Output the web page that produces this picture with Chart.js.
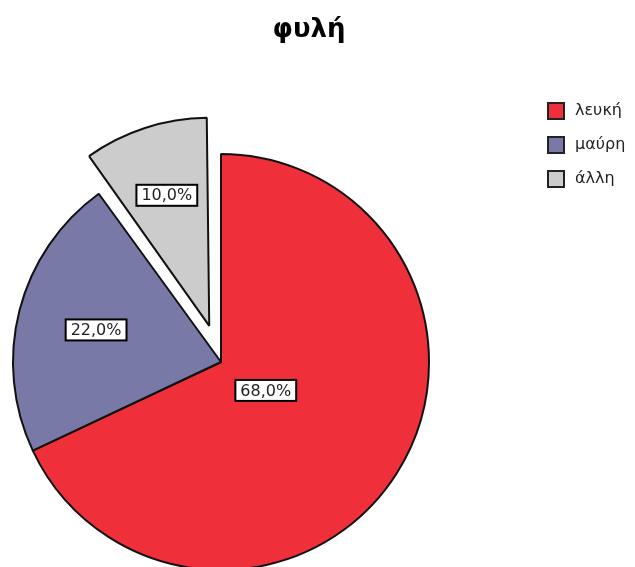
<!DOCTYPE html>
<html>
<head>
<meta charset="utf-8">
<script src="https://cdn.jsdelivr.net/npm/chart.js@4/dist/chart.umd.min.js"></script>
<style>
  html, body { margin: 0; padding: 0; background: #fff; overflow: hidden; }
  #chart_canvas { display: block; }
</style>
</head>
<body>
<canvas id="chart_canvas" width="635" height="567"></canvas>
<script>
// the numbers
const chart_title = "φυλή";
const categories = ["λευκή", "μαύρη", "άλλη"];
const percents = [68.0, 22.0, 10.0];
const slice_colors = ["#ef2f3a", "#7979a8", "#cccccc"];
const exploded = [false, false, true];

const pie_radius = 208;
const explode_px = 38;
// how far out along the middle of each slice the % box sits (fraction of radius)
const label_at = [0.255, 0.62, 0.66];
const font_fam = "'DejaVu Sans', Verdana, sans-serif";

function pct_txt(v) {
  return v.toFixed(1).replace(".", ",") + "%";
}

// arc draws offset/4 as the shift and grows the radius a bit, undo that growth
const fix_radius = {
  id: "fix_radius",
  afterDatasetsUpdate(chart) {
    const meta = chart.getDatasetMeta(0);
    meta.data.forEach(function(arc, i) {
      const circ = arc.endAngle - arc.startAngle;
      const off = exploded[i] ? explode_px : 0;
      const grow = off * (1 - Math.sin(Math.min(Math.PI, circ)));
      arc.outerRadius = pie_radius - grow;
    });
  }
};

// title, legend and the % boxes
const extras = {
  id: "extras",
  afterDraw(chart) {
    const ctx = chart.ctx;
    ctx.save();

    // title
    ctx.fillStyle = "#000";
    ctx.font = "bold 26px " + font_fam;
    ctx.textAlign = "center";
    ctx.textBaseline = "alphabetic";
    ctx.fillText(chart_title, 309, 37);

    // legend
    ctx.font = "16px " + font_fam;
    ctx.textAlign = "left";
    ctx.textBaseline = "middle";
    for (let i = 0; i < categories.length; i++) {
      let y = 103 + i * 34;
      ctx.fillStyle = slice_colors[i];
      ctx.fillRect(548, y, 16, 16);
      ctx.strokeStyle = "#222";
      ctx.lineWidth = 2;
      ctx.strokeRect(548, y, 16, 16);
      ctx.fillStyle = "#222";
      ctx.fillText(categories[i], 575, y + 8);
    }

    // value boxes
    const meta = chart.getDatasetMeta(0);
    meta.data.forEach(function(arc, i) {
      const mid = (arc.startAngle + arc.endAngle) / 2;
      const shift = exploded[i] ? explode_px : 0;
      const d = shift + label_at[i] * pie_radius;
      const cx = arc.x + Math.cos(mid) * d;
      const cy = arc.y + Math.sin(mid) * d;
      const txt = pct_txt(percents[i]);
      ctx.font = "16px " + font_fam;
      const w = ctx.measureText(txt).width + 10;
      const h = 21;
      ctx.fillStyle = "#fff";
      ctx.fillRect(cx - w / 2, cy - h / 2, w, h);
      ctx.strokeStyle = "#000";
      ctx.lineWidth = 2;
      ctx.strokeRect(cx - w / 2, cy - h / 2, w, h);
      ctx.fillStyle = "#222";
      ctx.textAlign = "center";
      ctx.textBaseline = "middle";
      ctx.fillText(txt, cx, cy + 1);
    });
    ctx.restore();
  }
};

const chart = new Chart(document.getElementById("chart_canvas").getContext("2d"), {
  type: "pie",
  data: {
    labels: categories,
    datasets: [{
      data: percents,
      backgroundColor: slice_colors,
      borderColor: "#111",
      borderWidth: 2,
      offset: exploded.map(e => e ? explode_px * 4 : 0),
      clip: false
    }]
  },
  options: {
    responsive: false,
    animation: false,
    radius: pie_radius,
    layout: { padding: { left: 0, right: 193, top: 157, bottom: 0 } },
    plugins: {
      legend: { display: false },
      title: { display: false },
      tooltip: { enabled: false }
    }
  },
  plugins: [fix_radius, extras]
});
</script>
</body>
</html>
